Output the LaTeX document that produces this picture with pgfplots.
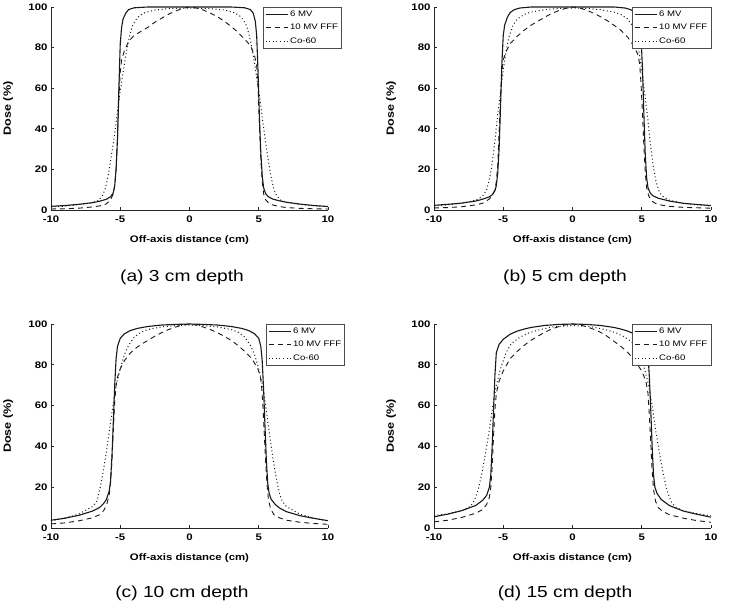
\documentclass[border=0pt]{standalone}
\usepackage{fontspec}
\setmainfont{Liberation Sans}[FakeStretch=1.2]
\usepackage{pgfplots}
\pgfplotsset{compat=1.18}
\pgfplotsset{
 panel/.style={
   scale only axis, width=277pt, height=203pt,
   xmin=-10, xmax=10, ymin=0, ymax=100,
   xtick={-10,-5,0,5,10}, ytick={0,20,40,60,80,100},
   axis x line*=bottom, axis y line*=left,
   axis line style={black!85, line width=0.8pt},
   tick align=inside, major tick length=3pt,
   tick style={black!85, line width=0.6pt},
   /pgf/number format/assume math mode=true,
   tick label style={font=\fontsize{9.5}{11}\selectfont\bfseries},
   xticklabel style={yshift=-2.5pt},
   label style={font=\fontsize{9.5}{11}\selectfont\bfseries},
   xlabel={Off-axis distance (cm)}, ylabel={Dose (\%)},
   xlabel style={at={(axis description cs:0.5,-0.148)}, anchor=center},
   ylabel style={at={(axis description cs:-0.155,0.5)}, anchor=center, font=\fontsize{10.5}{12}\selectfont\bfseries},
   legend style={font=\fontsize{8}{9}\selectfont, draw=black!70, line width=0.5pt, inner sep=1.5pt, row sep=2.5pt, legend cell align=left},
   legend image code/.code={\draw[##1] (0pt,0pt) -- (22pt,0pt);},
 },
 s6/.style={black!90, line width=1.1pt},
 sf/.style={black!90, line width=0.9pt, dash pattern=on 5pt off 4pt},
 sc/.style={black!90, line width=1pt, dash pattern=on 1pt off 2.6pt},
}
\begin{document}
\begin{tikzpicture}
\path[use as bounding box] (0,0) rectangle (740pt,-609pt);
% (a)
\begin{axis}[panel, at={(51pt,-210pt)}, anchor=south west,
  legend style={at={(1.05,1)}, anchor=north east}]
\addplot[s6] coordinates {(-10,1.8)(-9,2.2)(-8,2.8)(-7,3.6)(-6.5,4.3)(-6,5.3)(-5.7,6.5)(-5.5,8.5)(-5.4,12)(-5.3,20)(-5.2,35)(-5.1,60)(-5,82)(-4.9,90)(-4.8,94)(-4.6,97)(-4.4,98.7)(-4,99.6)(-3,100)(3,100)(4,99.6)(4.4,98.7)(4.6,97)(4.75,93)(4.85,86)(4.95,68)(5.05,45)(5.15,28)(5.25,17)(5.35,11)(5.5,8)(5.7,6.5)(6,5.4)(6.5,4.5)(7,3.8)(8,2.9)(9,2.2)(10,1.7)};
\addplot[sf] coordinates {(-10,0.5)(-9,0.6)(-8,0.9)(-7,1.5)(-6.5,2)(-6,3)(-5.7,5)(-5.5,8)(-5.4,12)(-5.3,20)(-5.2,35)(-5.1,55)(-5,68)(-4.9,74)(-4.7,78.5)(-4.4,83)(-4,86)(-3.5,88)(-3,90)(-2.5,92.5)(-2,94.5)(-1.5,96.5)(-1,98)(-0.5,99.3)(0,100)(0.5,99.5)(1,98.5)(1.5,97)(2,95.3)(2.5,93)(3,90.5)(3.5,87.5)(4,84)(4.4,81)(4.7,76)(4.85,71)(4.95,60)(5.05,42)(5.15,25)(5.25,14)(5.35,8)(5.5,5)(5.7,3.5)(6,2.5)(6.5,1.7)(7,1.2)(8,0.8)(9,0.6)(10,0.5)};
\addplot[sc] coordinates {(-10,1.5)(-9,1.9)(-8,2.6)(-7,3.6)(-6.6,4.6)(-6.3,7)(-6.1,10)(-5.9,16)(-5.7,24)(-5.5,33)(-5.3,43)(-5.1,54)(-4.9,63)(-4.7,72)(-4.5,80)(-4.3,86.5)(-4.1,91)(-3.9,93.5)(-3.6,95.8)(-3.2,97.3)(-2.5,98.5)(-1.5,99.2)(0,99.5)(1.5,99.2)(2.5,98.5)(3.2,97.3)(3.6,95.8)(3.9,93.5)(4.1,91)(4.3,86.5)(4.5,80)(4.7,72)(4.9,63)(5.1,54)(5.3,43)(5.5,33)(5.7,24)(5.9,16)(6.1,10)(6.3,7)(6.6,4.8)(7,3.8)(8,2.7)(9,2.1)(10,1.6)};
\legend{6 MV, 10 MV FFF, Co-60}
\end{axis}
% (b)
\begin{axis}[panel, at={(434pt,-210pt)}, anchor=south west,
  legend style={at={(1,1)}, anchor=north east}]
\addplot[s6] coordinates {(-10,2.3)(-9,2.8)(-8,3.4)(-7,4.4)(-6.5,5.3)(-6,6.5)(-5.8,7.5)(-5.6,9.5)(-5.5,12)(-5.4,18)(-5.3,30)(-5.2,50)(-5.1,72)(-5,86)(-4.9,91)(-4.7,95)(-4.5,97.3)(-4.2,98.7)(-3.8,99.5)(-3,100)(3,100)(3.8,99.5)(4.2,98.7)(4.5,97.3)(4.7,95)(4.85,91)(4.95,85)(5.05,70)(5.15,48)(5.25,28)(5.35,16)(5.45,11)(5.6,8.5)(5.8,7)(6.2,5.8)(7,4.4)(8,3.3)(9,2.7)(10,2.2)};
\addplot[sf] coordinates {(-10,1.0)(-9,1.2)(-8,1.6)(-7,2.5)(-6.5,3.3)(-6.2,4.5)(-6,5.5)(-5.8,7)(-5.6,10)(-5.5,14)(-5.4,22)(-5.3,38)(-5.2,55)(-5.1,68)(-5.0,74)(-4.8,78)(-4.5,82)(-4.0,85.5)(-3.5,88.5)(-3,91)(-2.5,93)(-2,95)(-1.5,96.8)(-1,98.2)(-0.5,99.3)(0,100)(0.5,99.5)(1,98.5)(1.5,97)(2,95.3)(2.5,93.3)(3,91)(3.5,88.5)(4,85)(4.4,81)(4.7,77)(4.85,72)(4.95,62)(5.05,48)(5.15,32)(5.25,19)(5.35,11)(5.5,7)(5.7,4.5)(6,3.2)(6.5,2.3)(7,1.8)(8,1.3)(9,1.1)(10,0.9)};
\addplot[sc] coordinates {(-10,2)(-9,2.5)(-8,3.3)(-7,4.8)(-6.6,6.3)(-6.4,7.5)(-6.2,10)(-6,15)(-5.8,23)(-5.6,34)(-5.4,47)(-5.2,58)(-5,69)(-4.8,78)(-4.6,85)(-4.3,91)(-4,94)(-3.5,96.3)(-3,97.5)(-2,98.7)(-1,99.3)(0,99.5)(1,99.3)(2,98.7)(3,97.5)(3.5,96.3)(4,94)(4.3,91)(4.6,85)(4.8,78)(5,69)(5.2,58)(5.4,47)(5.6,34)(5.8,23)(6,15)(6.2,10)(6.4,7.5)(6.6,6.3)(7,4.8)(8,3.3)(9,2.5)(10,2)};
\legend{6 MV, 10 MV FFF, Co-60}
\end{axis}
% (c)
\begin{axis}[panel, at={(51pt,-528pt)}, anchor=south west, height=204pt,
  legend style={at={(1.061,1)}, anchor=north east}]
\addplot[s6] coordinates {(-10,3.8)(-9,4.8)(-8,6.2)(-7,8.3)(-6.5,10)(-6.2,12)(-6,14)(-5.8,18)(-5.7,23)(-5.6,35)(-5.5,52)(-5.4,70)(-5.3,83)(-5.2,89)(-5,93)(-4.7,95.2)(-4.3,96.7)(-3.8,97.8)(-3,98.8)(-2,99.5)(-1,99.8)(0,100)(1,99.8)(2,99.5)(3,98.8)(3.8,97.8)(4.3,96.7)(4.7,95.2)(5,93)(5.15,89)(5.25,82)(5.35,68)(5.45,50)(5.55,33)(5.65,22)(5.75,17)(5.9,14)(6.2,11.5)(6.5,9.8)(7,8)(8,6)(9,4.7)(10,3.6)};
\addplot[sf] coordinates {(-10,2)(-9,2.5)(-8,3.5)(-7,5)(-6.5,6.5)(-6.2,8.5)(-6,11)(-5.8,16)(-5.7,22)(-5.6,33)(-5.5,48)(-5.4,62)(-5.3,70)(-5.2,74)(-5,78)(-4.7,82)(-4.3,85.5)(-4,87.5)(-3.5,90)(-3,92)(-2.5,94)(-2,95.8)(-1.5,97.3)(-1,98.5)(-0.5,99.5)(0,100)(0.5,99.5)(1,98.5)(1.5,97.3)(2,95.8)(2.5,94)(3,92)(3.5,89.5)(4,86.5)(4.5,83)(4.9,78.5)(5.1,75)(5.2,70)(5.3,60)(5.4,46)(5.5,32)(5.6,21)(5.7,14)(5.85,9.5)(6.1,6.5)(6.5,5)(7,3.8)(8,2.8)(9,2.2)(10,1.8)};
\addplot[sc] coordinates {(-10,3.5)(-9,4.8)(-8,6.8)(-7,10.5)(-6.7,13)(-6.5,18)(-6.3,25)(-6.1,33)(-5.9,42)(-5.7,52)(-5.5,61)(-5.3,70)(-5,78)(-4.7,85)(-4.4,89.5)(-4,93.5)(-3.5,96)(-3,97.3)(-2,98.6)(-1,99.2)(0,99.5)(1,99.2)(2,98.6)(3,97.3)(3.5,96)(4,93.5)(4.4,89.5)(4.7,85)(5,78)(5.3,69)(5.5,60)(5.7,50)(5.9,40)(6.1,31)(6.3,23)(6.5,17)(6.7,13)(7,10.5)(8,6.7)(9,4.8)(10,3.4)};
\legend{6 MV, 10 MV FFF, Co-60}
\end{axis}
% (d)
\begin{axis}[panel, at={(434pt,-528pt)}, anchor=south west, height=204pt,
  legend style={at={(1,1)}, anchor=north east}]
\addplot[s6] coordinates {(-10,5.5)(-9,6.8)(-8,8.5)(-7,11)(-6.5,13.5)(-6.2,16)(-6,20)(-5.9,26)(-5.8,40)(-5.7,58)(-5.6,75)(-5.5,86)(-5.3,90)(-5,92.5)(-4.5,95)(-4,96.5)(-3.5,97.5)(-3,98.3)(-2,99.3)(-1,99.8)(0,100)(1,99.8)(2,99.3)(3,98.3)(3.5,97.5)(4,96.5)(4.5,95)(5,92.5)(5.3,89.5)(5.45,85)(5.55,74)(5.65,58)(5.75,40)(5.85,26)(5.95,20)(6.1,17)(6.4,14)(7,11)(8,8.3)(9,6.7)(10,5.3)};
\addplot[sf] coordinates {(-10,3)(-9,3.8)(-8,5.2)(-7,7.2)(-6.5,9)(-6.2,11.5)(-6,15)(-5.9,20)(-5.8,30)(-5.7,45)(-5.6,58)(-5.5,66)(-5.3,72)(-5,77)(-4.5,83)(-4,86.5)(-3.5,89.5)(-3,92)(-2.5,94)(-2,96)(-1.5,97.5)(-1,98.7)(-0.5,99.6)(0,100)(0.5,99.6)(1,98.7)(1.5,97.5)(2,96)(2.5,94)(3,91.5)(3.5,89)(4,86)(4.5,82)(5,77)(5.3,72)(5.45,66)(5.55,55)(5.65,42)(5.75,28)(5.85,19)(6,13)(6.2,10)(6.5,8.2)(7,6.5)(8,4.8)(9,3.6)(10,2.8)};
\addplot[sc] coordinates {(-10,6)(-9,7)(-8,8.5)(-7.5,10)(-7.2,12)(-7,15)(-6.8,19)(-6.6,25)(-6.4,32)(-6.2,40)(-6,48)(-5.8,58)(-5.5,70)(-5.2,78)(-4.8,86)(-4.4,90.5)(-3.8,93.5)(-3.2,95.5)(-2.5,97)(-1.5,98.5)(0,99.3)(1.5,98.5)(2.5,97)(3.2,95.5)(3.8,93.5)(4.4,90.5)(4.8,86)(5.2,78)(5.5,70)(5.8,58)(6,48)(6.2,40)(6.4,32)(6.6,25)(6.8,19)(7,15)(7.2,12)(7.5,10)(8,8.5)(9,7)(10,6)};
\legend{6 MV, 10 MV FFF, Co-60}
\end{axis}
\node[font=\fontsize{16}{18}\selectfont] at (182pt,-277pt) {(a) 3 cm depth};
\node[font=\fontsize{16}{18}\selectfont] at (565pt,-277pt) {(b) 5 cm depth};
\node[font=\fontsize{16}{18}\selectfont] at (182pt,-593pt) {(c) 10 cm depth};
\node[font=\fontsize{16}{18}\selectfont] at (565pt,-593pt) {(d) 15 cm depth};
\end{tikzpicture}
\end{document}
